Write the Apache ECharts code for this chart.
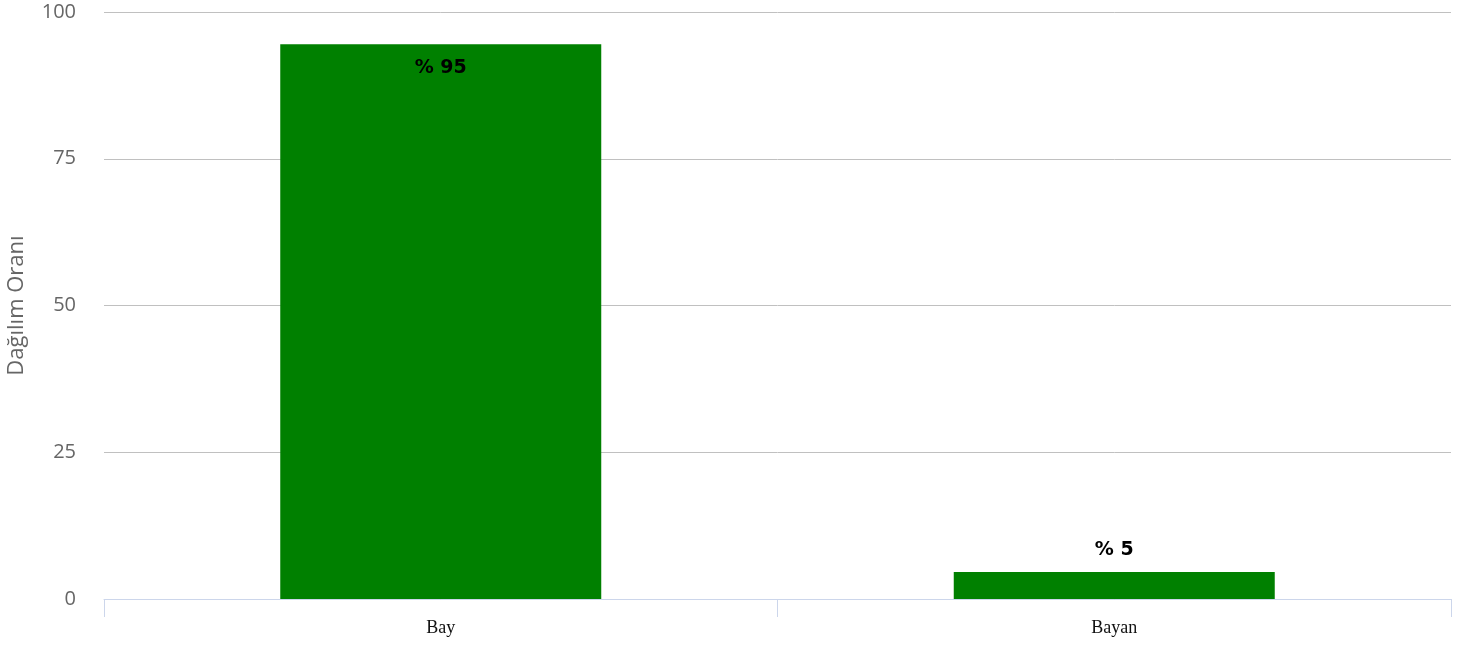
<!DOCTYPE html>
<html><head><meta charset="utf-8">
<script src="https://cdn.jsdelivr.net/npm/echarts@6/dist/echarts.min.js"></script>
<style>html,body{margin:0;padding:0;background:#fff}#c{width:1474px;height:649px}</style>
</head><body><div id="c"></div>
<script>
const categories = ["Bay", "Bayan"];
const values = [94.5, 4.6];
const valueLabels = ["% 95", "% 5"];
const labelPositions = ["insideTop", "top"];
const yTicks = [0, 25, 50, 75, 100];

const chart = echarts.init(document.getElementById('c'), null, {renderer: 'canvas'});
chart.setOption({
  animation: false,
  grid: {left: 104, right: 23, top: 12, bottom: 50, containLabel: false, outerBoundsMode: 'none'},
  xAxis: {
    type: 'category', data: categories,
    axisLine: {lineStyle: {color: '#ccd6eb', width: 1}},
    axisTick: {show: true, length: 18, lineStyle: {color: '#ccd6eb'}},
    axisLabel: {color: '#111', fontFamily: 'Liberation Serif, DejaVu Serif, serif', fontSize: 18, margin: 20}
  },
  yAxis: {
    type: 'value', min: yTicks[0], max: yTicks[yTicks.length-1], interval: 25,
    name: 'Dağılım Oranı', nameLocation: 'middle', nameGap: 76, nameRotate: 90,
    nameTextStyle: {color: '#666', fontSize: 22, fontFamily: 'Open Sans, sans-serif'},
    axisLine: {show: false}, axisTick: {show: false},
    splitLine: {lineStyle: {color: '#c0c0c0', width: 1}},
    axisLabel: {color: '#666', fontSize: 20, fontFamily: 'Open Sans, sans-serif', margin: 28}
  },
  series: [{
    type: 'bar', barWidth: 321,
    data: values.map((v, i) => ({
      value: v,
      label: {show: true, position: labelPositions[i], distance: labelPositions[i] === 'top' ? 12 : 14, formatter: valueLabels[i]}
    })),
    itemStyle: {color: '#008000'},
    label: {color: '#000', fontWeight: 'bold', fontSize: 19, fontFamily: 'DejaVu Sans, sans-serif'}
  }]
});
</script></body></html>
